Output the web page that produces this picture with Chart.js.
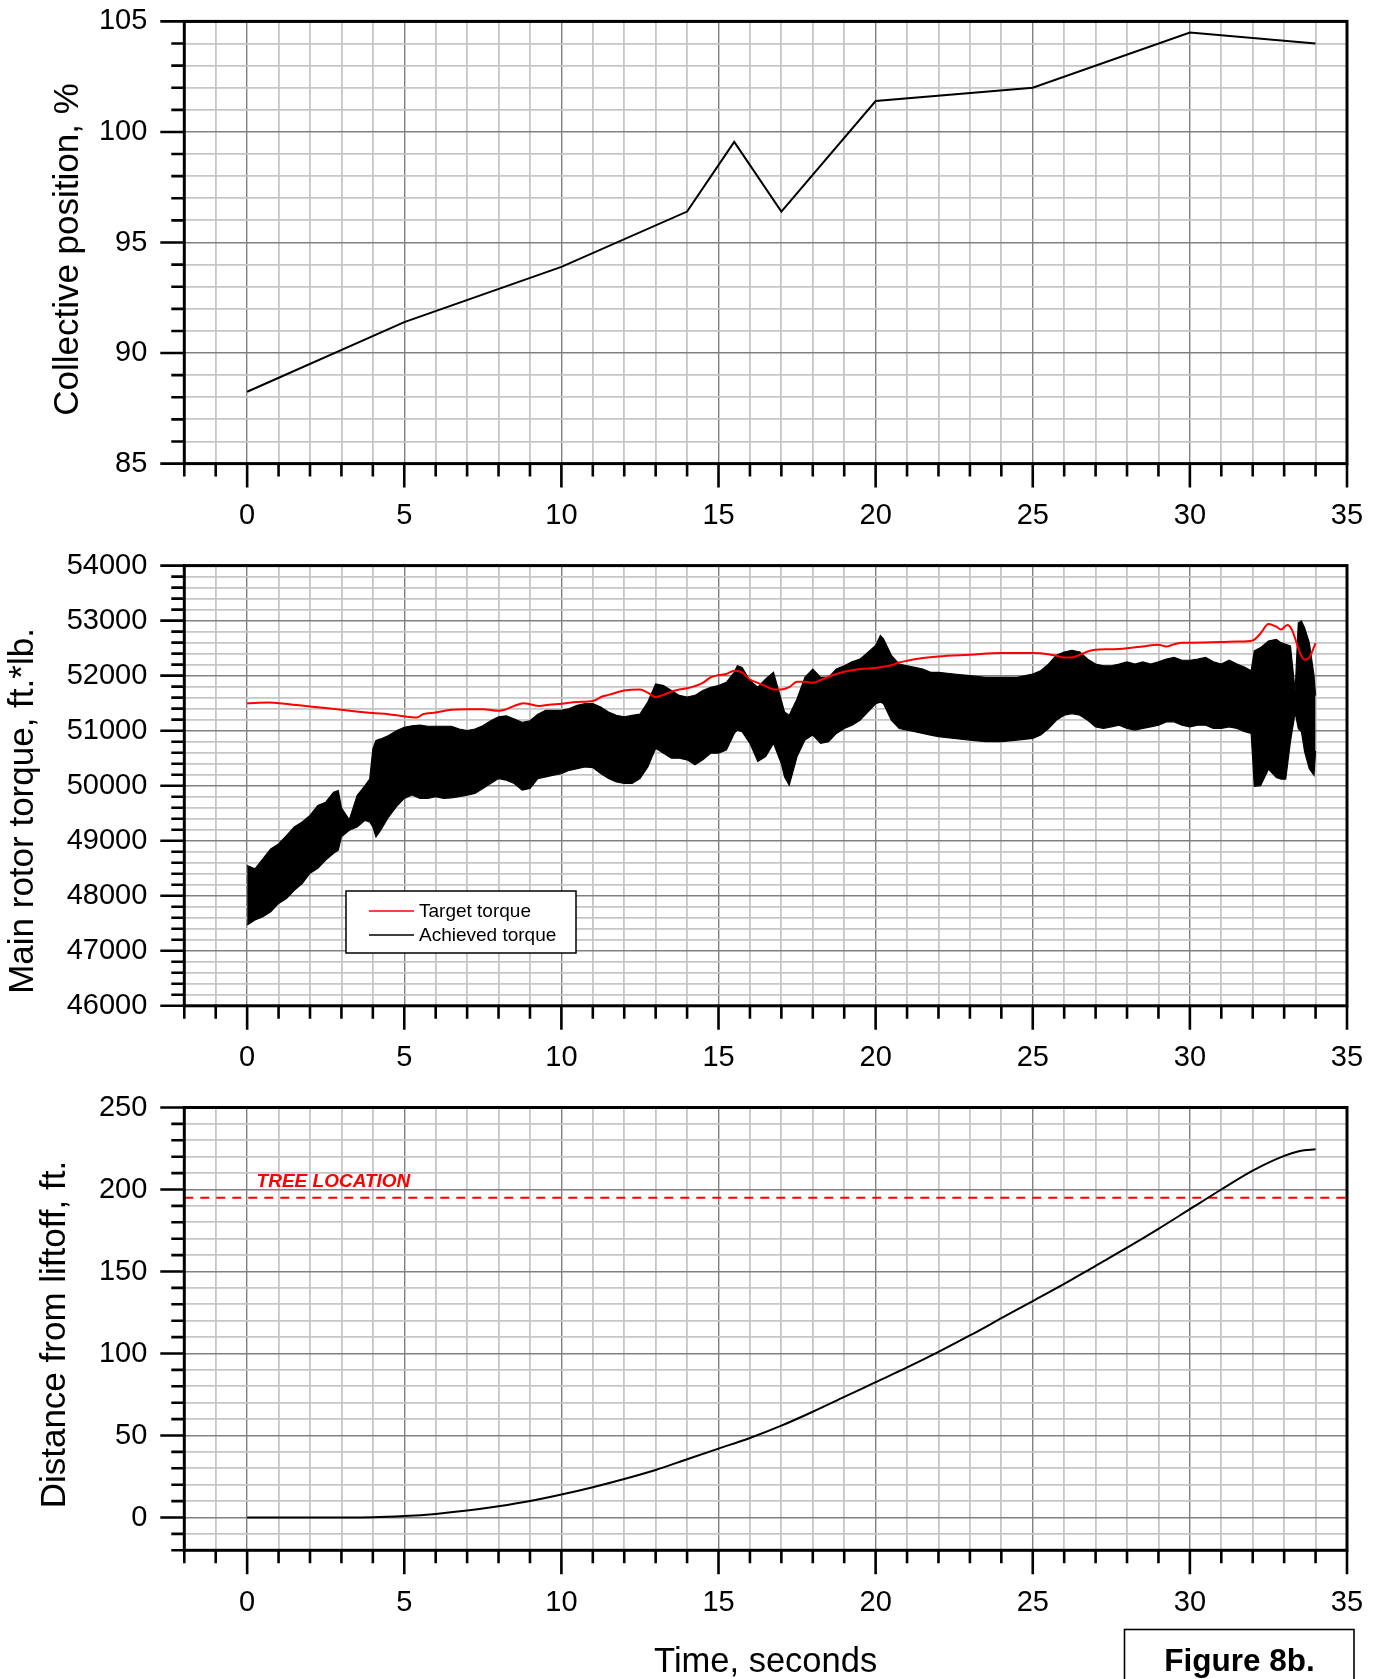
<!DOCTYPE html>
<html>
<head>
<meta charset="utf-8">
<title>Figure 8b</title>
<script src="https://cdn.jsdelivr.net/npm/chart.js@4.4.1/dist/chart.umd.min.js"></script>
<style>
  html, body { margin: 0; padding: 0; background: #fff; }
  #page { position: relative; width: 1379px; height: 1679px; overflow: hidden; background: #fff; }
  #page canvas { position: absolute; left: 0; }
</style>
</head>
<body>
<div id="page">
  <canvas id="collChart" width="1379" height="540" style="top:0px"></canvas>
  <canvas id="torqueChart" width="1379" height="540" style="top:545px"></canvas>
  <canvas id="distChart" width="1379" height="598" style="top:1085px"></canvas>
</div>
<script>
// ---- collective position, % ----
const collTime = [0, 5, 10, 14, 15.5, 17, 20, 25, 30, 34];
const collPos  = [88.25, 91.4, 93.9, 96.4, 99.55, 96.4, 101.4, 102.0, 104.5, 104.0];

// ---- main rotor torque, ft*lb ----
const targetTime = [
  0, 0.7, 1, 2, 3, 4, 4.5, 5, 5.4, 5.6, 6, 6.5, 7, 7.5, 8, 8.2, 8.5, 8.8, 9, 9.3, 9.6, 10,
  10.5, 11, 11.3, 11.5, 12, 12.5, 12.75, 13, 13.25, 13.5, 13.75, 14, 14.5, 14.75, 15, 15.25, 15.5, 15.75,
  16, 16.25, 16.5, 16.75, 17, 17.25, 17.5, 17.75, 18, 18.25, 18.5, 18.75, 19, 19.5, 20, 20.25, 20.5, 20.75,
  21, 21.5, 22, 23, 24, 25, 25.5, 25.75, 26, 26.25, 26.5, 26.75, 27, 27.5, 28, 28.5, 29, 29.25, 29.5, 29.75,
  30, 31, 31.5, 32, 32.25, 32.5, 32.75, 32.9, 33.1, 33.25, 33.4, 33.5, 33.65, 33.8, 34
];
const targetTorque = [
  51500, 51510, 51500, 51440, 51380, 51320, 51300, 51260, 51240, 51300, 51330, 51380, 51390, 51390, 51360, 51380, 51450, 51500, 51480, 51450, 51470, 51490,
  51520, 51540, 51620, 51650, 51730, 51750, 51690, 51610, 51650, 51710, 51750, 51770, 51870, 51970, 52010, 52030, 52090, 52060,
  51930, 51870, 51810, 51750, 51750, 51790, 51890, 51890, 51870, 51920, 51980, 52030, 52070, 52120, 52140, 52160, 52190, 52240,
  52270, 52320, 52350, 52380, 52410, 52410, 52390, 52360, 52330, 52330, 52380, 52440, 52470, 52480, 52500, 52530, 52560, 52530, 52570, 52600,
  52600, 52610, 52620, 52640, 52770, 52940, 52890, 52840, 52920, 52830, 52590, 52420, 52290, 52330, 52590
];

// achieved torque oscillates fast, kept as its upper / lower envelope
const achTime = [
  0, 0.25, 0.5, 0.75, 1, 1.25, 1.5, 1.75, 2, 2.25, 2.5, 2.75, 2.9, 3, 3.25, 3.5, 3.75, 3.9,
  4, 4.1, 4.25, 4.5, 4.75, 5, 5.25, 5.5, 5.75, 6, 6.25, 6.5, 6.75, 7, 7.25, 7.5, 7.75, 8,
  8.25, 8.5, 8.75, 9, 9.25, 9.5, 9.75, 10, 10.25, 10.5, 10.75, 11, 11.25, 11.5, 11.75, 12, 12.25, 12.5, 12.75,
  13, 13.25, 13.5, 13.75, 14, 14.25, 14.5, 14.75, 15, 15.25, 15.5, 15.6, 15.75, 16, 16.25, 16.5, 16.75,
  17, 17.1, 17.25, 17.5, 17.75, 18, 18.25, 18.5, 18.75, 19, 19.25, 19.5, 19.75, 20, 20.15, 20.25, 20.5, 20.75,
  21, 21.25, 21.5, 21.75, 22, 22.5, 23, 23.5, 24, 24.5, 25, 25.25, 25.5, 25.75, 26, 26.25, 26.5, 26.75,
  27, 27.25, 27.5, 27.75, 28, 28.25, 28.5, 28.75, 29, 29.25, 29.5, 29.75, 30, 30.25, 30.5, 30.75,
  31, 31.25, 31.5, 31.75, 31.95, 32.05, 32.25, 32.5, 32.75, 32.9, 33.05, 33.2, 33.35, 33.45, 33.55, 33.65, 33.8, 33.95, 34
];
const achHigh = [
  48550, 48490, 48670, 48850, 48940, 49090, 49250, 49340, 49460, 49640, 49700, 49880, 49910, 49600, 49380, 49820, 50000, 50120,
  50670, 50820, 50850, 50910, 51000, 51060, 51090, 51100, 51080, 51080, 51080, 51080, 51030, 51000, 51030, 51090, 51180, 51250,
  51270, 51210, 51150, 51180, 51300, 51370, 51370, 51370, 51400, 51460, 51490, 51490, 51430, 51340, 51280, 51250, 51280, 51300, 51520,
  51850, 51820, 51730, 51640, 51610, 51640, 51730, 51790, 51820, 51880, 52060, 52180, 52150, 51910, 51790, 51940, 52060,
  51550, 51340, 51280, 51580, 51970, 52120, 51970, 51970, 52120, 52180, 52250, 52300, 52420, 52550, 52730, 52670, 52370, 52210,
  52180, 52150, 52120, 52060, 52060, 52030, 52000, 51970, 51970, 51970, 52030, 52090, 52210, 52370, 52430, 52460, 52430, 52300,
  52210, 52180, 52180, 52210, 52250, 52210, 52250, 52210, 52250, 52300, 52330, 52280, 52280, 52300, 52330, 52250,
  52210, 52280, 52210, 52150, 52090, 52450, 52510, 52630, 52660, 52600, 52570, 52540, 51720, 52960, 52990, 52870, 52600, 52000, 51640
];
const achLow = [
  47470, 47560, 47620, 47710, 47860, 47950, 48100, 48220, 48410, 48500, 48650, 48770, 48830, 49070, 49190, 49250, 49370, 49340,
  49250, 49070, 49190, 49430, 49620, 49770, 49830, 49770, 49770, 49800, 49770, 49780, 49800, 49830, 49860, 49950, 50040, 50130,
  50100, 50040, 49920, 49950, 50130, 50160, 50190, 50220, 50280, 50310, 50340, 50330, 50220, 50130, 50070, 50040, 50040, 50130, 50340,
  50680, 50590, 50500, 50500, 50470, 50380, 50470, 50590, 50590, 50650, 50950, 51010, 50980, 50770, 50440, 50530, 50770,
  50400, 50160, 50010, 50530, 50830, 50920, 50770, 50800, 50950, 51040, 51100, 51190, 51340, 51490, 51520, 51490, 51190, 51040,
  51010, 50980, 50950, 50920, 50890, 50860, 50830, 50800, 50800, 50830, 50860, 50920, 51040, 51190, 51280, 51310, 51280, 51190,
  51070, 51040, 51070, 51100, 51040, 51010, 51040, 51070, 51100, 51160, 51160, 51100, 51070, 51100, 51100, 51040,
  51040, 51070, 51040, 50980, 50950, 49990, 50000, 50300, 50150, 50120, 50120, 50800, 51330, 51040, 50980, 50620, 50310, 50190, 50630
];

// ---- distance from liftoff, ft ----
const distTime = [0, 2, 4, 5, 6, 7, 8, 9, 10, 11, 12, 13, 14, 15, 16, 17, 18, 19, 20, 21, 22, 23, 24, 25, 26, 27, 28, 29, 30, 31, 32, 33, 33.5, 34];
const distFt   = [0, 0, 0.2, 0.9, 2.2, 4.2, 6.8, 10, 14, 18.5, 23.5, 29, 35.5, 42, 48.5, 56, 64.5, 73.5, 82.5, 91.5, 101, 111, 121.5, 132, 142.5, 153.5, 164.5, 176, 188, 200, 211.5, 220.5, 223.5, 224.6];
const treeTime = [-2, 35];
const treeDist = [195, 195];

const FONT = '"Liberation Sans", Arial, Helvetica, sans-serif';
Chart.defaults.font.family = FONT;
Chart.defaults.color = '#000';

const LIGHT = '#c6c6c6';
const DARK = '#808080';
const AXIS_W = 184.3;

function pts(xs, ys) {
  return xs.map((x, i) => ({ x: x, y: ys[i] }));
}

function isMajor(c, every) {
  return c.tick && c.tick.value % every === 0;
}

// time axis, same on every panel
function timeAxis(height, title) {
  return {
    type: 'linear', min: -2, max: 35,
    ticks: {
      stepSize: 1, autoSkip: false, maxRotation: 0, minRotation: 0, padding: 35,
      font: { size: 29 }, color: '#000',
      callback: v => (v >= 0 && v % 5 === 0) ? String(v) : ''
    },
    grid: {
      drawTicks: false,
      color: c => isMajor(c, 5) ? DARK : LIGHT,
      lineWidth: c => isMajor(c, 5) ? 1.4 : 1.8
    },
    border: { display: false },
    title: title
      ? { display: true, text: title, font: { size: 34.5 }, color: '#000', padding: { top: 0, bottom: 0 } }
      : { display: false },
    afterFit: s => {
      s.height = height;
      s.paddingLeft = 0;
      s.paddingRight = 0;
    }
  };
}

function valueAxis(min, max, step, major, labelFrom) {
  return {
    type: 'linear', min: min, max: max,
    ticks: {
      stepSize: step, autoSkip: false, padding: 37,
      font: { size: 29 }, color: '#000',
      callback: v => (v >= labelFrom && v % major === 0) ? String(v) : ''
    },
    grid: {
      drawTicks: false,
      color: c => isMajor(c, major) ? DARK : LIGHT,
      lineWidth: c => isMajor(c, major) ? 1.4 : 1.8
    },
    border: { display: false },
    afterFit: s => {
      s.width = AXIS_W;
      s.paddingTop = 0;
      s.paddingBottom = 0;
    }
  };
}

// frame round the plot and the outside tick marks (long on labelled values)
const axisFrame = {
  id: 'axisFrame',
  afterDraw(chart, args, o) {
    const { ctx, chartArea: a } = chart;
    const xs = chart.scales.x, ys = chart.scales.y;
    ctx.save();
    ctx.strokeStyle = '#000';
    ctx.lineWidth = 2.6;
    ctx.beginPath();
    xs.ticks.forEach(t => {
      const p = xs.getPixelForValue(t.value);
      const len = t.value % o.xMajor === 0 ? 24 : 13;
      ctx.moveTo(p, a.bottom);
      ctx.lineTo(p, a.bottom + len);
    });
    ys.ticks.forEach(t => {
      const p = ys.getPixelForValue(t.value);
      const len = t.value % o.yMajor === 0 ? 24 : 13;
      ctx.moveTo(a.left, p);
      ctx.lineTo(a.left - len, p);
    });
    ctx.stroke();
    ctx.lineWidth = 3;
    ctx.strokeRect(a.left, a.top, a.right - a.left, a.bottom - a.top);
    ctx.restore();
  }
};

// rotated y axis title
const sideTitle = {
  id: 'sideTitle',
  afterDraw(chart, args, o) {
    const ctx = chart.ctx;
    ctx.save();
    ctx.translate(o.x, o.y);
    ctx.rotate(-Math.PI / 2);
    ctx.font = '35px ' + FONT;
    ctx.fillStyle = '#000';
    ctx.textAlign = 'center';
    ctx.textBaseline = 'middle';
    ctx.fillText(o.text, 0, 0);
    ctx.restore();
  }
};

// boxed key in the torque panel
const torqueKey = {
  id: 'torqueKey',
  afterDraw(chart, args, o) {
    const ctx = chart.ctx;
    const items = chart.data.datasets.filter(d => d.inKey);
    ctx.save();
    ctx.fillStyle = '#fff';
    ctx.fillRect(o.left, o.top, o.width, o.height);
    ctx.strokeStyle = '#000';
    ctx.lineWidth = 1.5;
    ctx.strokeRect(o.left, o.top, o.width, o.height);
    ctx.font = '19px ' + FONT;
    ctx.textBaseline = 'middle';
    items.forEach((d, i) => {
      const y = o.top + o.firstRow + i * o.rowGap;
      ctx.strokeStyle = d.borderColor;
      ctx.lineWidth = 1.6;
      ctx.beginPath();
      ctx.moveTo(o.left + 23, y);
      ctx.lineTo(o.left + 68, y);
      ctx.stroke();
      ctx.fillStyle = '#000';
      ctx.fillText(d.label, o.left + 73, y + 1);
    });
    ctx.restore();
  }
};

// tree label and the figure number box
const distNotes = {
  id: 'distNotes',
  afterDraw(chart) {
    const ctx = chart.ctx;
    const xs = chart.scales.x, ys = chart.scales.y;
    ctx.save();
    ctx.fillStyle = '#ff0000';
    ctx.font = 'italic bold 19px ' + FONT;
    ctx.textBaseline = 'alphabetic';
    ctx.fillText('TREE LOCATION', xs.getPixelForValue(0.3), ys.getPixelForValue(treeDist[0]) - 10.5);

    ctx.strokeStyle = '#000';
    ctx.lineWidth = 1.6;
    ctx.strokeRect(1124.5, 544.5, 229.5, 80);
    ctx.fillStyle = '#000';
    ctx.font = 'bold 31.5px ' + FONT;
    ctx.textAlign = 'center';
    ctx.fillText('Figure 8b.', 1239.5, 586);
    ctx.restore();
  }
};

const common = {
  responsive: false,
  animation: false,
  devicePixelRatio: 1,
  events: [],
  elements: { point: { radius: 0 } }
};

new Chart(document.getElementById('collChart'), {
  type: 'line',
  data: {
    datasets: [{
      label: 'Collective position',
      data: pts(collTime, collPos),
      borderColor: '#000', borderWidth: 2, tension: 0, fill: false
    }]
  },
  options: Object.assign({}, common, {
    layout: { padding: { left: 0, top: 21.4, right: 32, bottom: 0 } },
    scales: {
      x: timeAxis(540 - 463.6),
      y: valueAxis(85, 105, 1, 5, 85)
    },
    plugins: {
      legend: { display: false }, tooltip: { enabled: false },
      axisFrame: { xMajor: 5, yMajor: 5 },
      sideTitle: { text: 'Collective position, %', x: 68.5, y: 249.5 }
    }
  }),
  plugins: [axisFrame, sideTitle]
});

new Chart(document.getElementById('torqueChart'), {
  type: 'line',
  data: {
    datasets: [
      {
        label: 'Target torque', inKey: true, order: 0,
        data: pts(targetTime, targetTorque),
        borderColor: '#ff0000', borderWidth: 2, cubicInterpolationMode: 'monotone', fill: false
      },
      {
        label: '', inKey: false, order: 2,
        data: pts(achTime, achLow),
        borderColor: '#000', borderWidth: 1.2, tension: 0, fill: false
      },
      {
        label: 'Achieved torque', inKey: true, order: 1,
        data: pts(achTime, achHigh),
        borderColor: '#000', borderWidth: 1.2, tension: 0,
        fill: '-1', backgroundColor: '#000'
      }
    ]
  },
  options: Object.assign({}, common, {
    layout: { padding: { left: 0, top: 20.6, right: 32, bottom: 0 } },
    scales: {
      x: timeAxis(1085 - 1005.8),
      y: valueAxis(46000, 54000, 200, 1000, 46000)
    },
    plugins: {
      legend: { display: false }, tooltip: { enabled: false },
      filler: { propagate: false },
      axisFrame: { xMajor: 5, yMajor: 1000 },
      sideTitle: { text: 'Main rotor torque, ft.*lb.', x: 23, y: 266 },
      torqueKey: { left: 346, top: 346, width: 230, height: 62, firstRow: 20, rowGap: 24 }
    }
  }),
  plugins: [axisFrame, sideTitle, torqueKey]
});

new Chart(document.getElementById('distChart'), {
  type: 'line',
  data: {
    datasets: [
      {
        label: 'Distance',
        data: pts(distTime, distFt),
        borderColor: '#000', borderWidth: 2, cubicInterpolationMode: 'monotone', fill: false
      },
      {
        label: 'Tree location',
        data: pts(treeTime, treeDist),
        borderColor: '#ff0000', borderWidth: 2, borderDash: [9, 7], tension: 0, fill: false
      }
    ]
  },
  options: Object.assign({}, common, {
    layout: { padding: { left: 0, top: 22.5, right: 32, bottom: 0 } },
    scales: {
      x: timeAxis(598 - 465.3, 'Time, seconds'),
      y: valueAxis(-20, 250, 10, 50, 0)
    },
    plugins: {
      legend: { display: false }, tooltip: { enabled: false },
      axisFrame: { xMajor: 5, yMajor: 50 },
      sideTitle: { text: 'Distance from liftoff, ft.', x: 55, y: 249.6 }
    }
  }),
  plugins: [axisFrame, sideTitle, distNotes]
});
</script>
</body>
</html>
